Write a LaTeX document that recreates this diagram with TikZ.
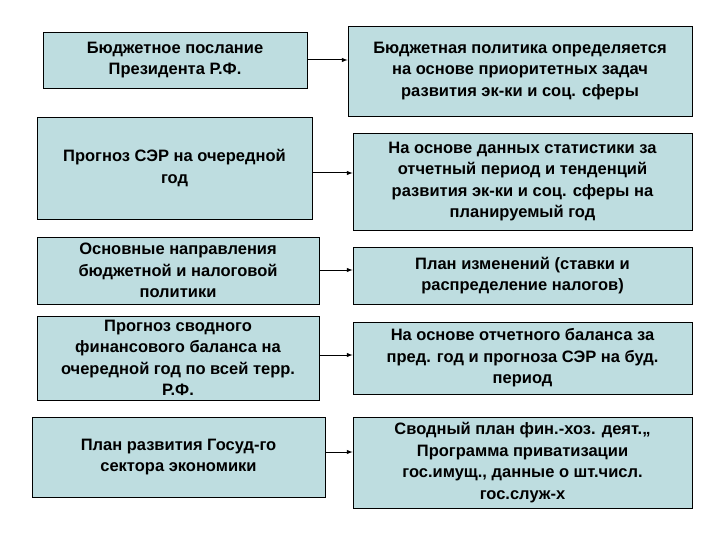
\documentclass[tikz,border=0pt]{standalone}
\usepackage{fontspec}
\setmainfont{Liberation Sans}
\definecolor{boxfill}{HTML}{BEDDE0}
\begin{document}
\begin{tikzpicture}[x=1pt,y=-1pt,
  box/.style={draw=black,line width=0.8pt,fill=boxfill,align=center,font=\fontsize{16.5}{21.5}\selectfont\bfseries,inner sep=0pt},
  arr/.style={-latex,line width=1pt}]
\useasboundingbox (0,0) rectangle (720,540);
\fill[white] (0,0) rectangle (720,540);
\newcommand{\bx}[6]{\node[box,minimum width=#4-#2,minimum height=#5-#3] (#1) at ({(#2+#4)/2},{(#3+#5)/2}) {#6};}
\bx{l1}{43}{32}{307}{88}{Бюджетное послание\\Президента Р.Ф.}
\bx{r1}{348}{26}{692}{116}{Бюджетная политика определяется\\на основе приоритетных задач\\развития эк-ки и соц. сферы}
\bx{l2}{37}{117}{312}{219}{Прогноз СЭР на очередной\\год}
\bx{r2}{353}{133}{692}{230}{На основе данных статистики за\\отчетный период и тенденций\\развития эк-ки и соц. сферы на\\планируемый  год}
\bx{l3}{37}{237}{319}{304}{Основные направления\\бюджетной и налоговой\\политики}
\bx{r3}{353}{247}{692}{304}{План изменений (ставки и\\распределение налогов)}
\bx{l4}{37}{316}{319}{400}{Прогноз сводного\\финансового баланса на\\очередной год по всей терр.\\Р.Ф.}
\bx{r4}{353}{322}{692}{394}{На основе отчетного баланса за\\пред. год и прогноза СЭР на буд.\\период}
\bx{l5}{32}{417}{325}{497}{План развития Госуд-го\\сектора экономики}
\bx{r5}{353}{417}{692}{508}{Сводный план фин.-хоз. деят.,,\\Программа приватизации\\гос.имущ., данные о шт.числ.\\гос.служ-х}
\coordinate (a1) at (0,60); \coordinate (a2) at (0,173); \coordinate (a3) at (0,270);
\coordinate (a4) at (0,355); \coordinate (a5) at (0,452);
\foreach \i in {1,...,5}{\draw[arr] (l\i.east |- a\i) -- (r\i.west |- a\i);}
\end{tikzpicture}
\end{document}
